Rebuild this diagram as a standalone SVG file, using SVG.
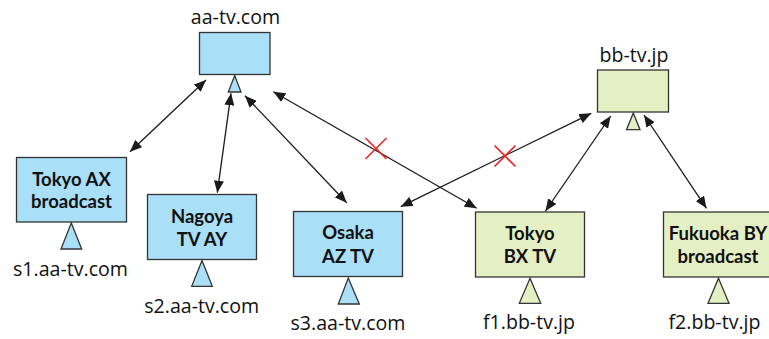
<svg xmlns="http://www.w3.org/2000/svg" width="769" height="339" viewBox="0 0 769 339">
<style>
.box{stroke:#333;stroke-width:1.3}
.a{fill:#aadff8}
.b{fill:#e4efc4}
.lbl{font-family:"Open Sans","Noto Sans",sans-serif;font-size:19.6px;fill:#111;text-anchor:middle}
.nm{font-family:Lato,"Open Sans",sans-serif;font-weight:bold;font-size:18.5px;fill:#111;text-anchor:middle}
.cn{stroke:#1a1a1a;stroke-width:1.3;fill:none;marker-start:url(#ah);marker-end:url(#ah)}
.x{stroke:#ee2222;stroke-width:1.6;fill:none}
</style>
<defs>
<marker id="ah" viewBox="0 0 12 10" refX="12" refY="5" markerWidth="12" markerHeight="10" markerUnits="userSpaceOnUse" orient="auto-start-reverse">
<path d="M0,0 L12,5 L0,10 z" fill="#1a1a1a"/>
</marker>
</defs>
<g id="connectors">
<line class="cn" x1="130" y1="151.7" x2="206" y2="80"/>
<line class="cn" x1="217.3" y1="192.7" x2="231" y2="93.3"/>
<line class="cn" x1="346.7" y1="202.7" x2="245" y2="95.7"/>
<line class="cn" x1="476.7" y1="208.3" x2="273.3" y2="91.7"/>
<line class="cn" x1="400.7" y1="206.7" x2="591.3" y2="113.3"/>
<line class="cn" x1="545.5" y1="211" x2="610.7" y2="116"/>
<line class="cn" x1="706.5" y1="208.3" x2="644" y2="115"/>
<path class="x" d="M365.5,138 L386.5,159 M386.5,138 L365.5,159"/>
<path class="x" d="M494.5,145.5 L515.5,166.5 M515.5,145.5 L494.5,166.5"/>
</g>
<g id="aa-tv">
<text class="lbl" x="235.5" y="24">aa-tv.com</text>
<rect class="box a" x="199.5" y="32.5" width="70.5" height="42"/>
<polygon class="box a" points="234.7,75.5 241,92 228.3,92"/>
</g>
<g id="bb-tv">
<text class="lbl" x="634" y="62.3">bb-tv.jp</text>
<rect class="box b" x="597.5" y="70" width="71" height="42"/>
<polygon class="box b" points="633.3,113 640,129.7 626.5,129.7"/>
</g>
<g id="tokyo-ax">
<rect class="box a" x="16.5" y="157.5" width="110" height="64.5"/>
<text class="nm" x="71.5" y="186">Tokyo AX</text>
<text class="nm" x="71.5" y="208">broadcast</text>
<polygon class="box a" points="71.3,223 81.7,249 61,249"/>
<text class="lbl" x="70.5" y="276">s1.aa-tv.com</text>
</g>
<g id="nagoya">
<rect class="box a" x="147.5" y="194.5" width="109" height="65"/>
<text class="nm" x="202" y="222.7">Nagoya</text>
<text class="nm" x="202" y="246">TV AY</text>
<polygon class="box a" points="202,260.5 212.3,286.3 191.7,286.3"/>
<text class="lbl" x="201.7" y="312.7">s2.aa-tv.com</text>
</g>
<g id="osaka">
<rect class="box a" x="293.5" y="211.5" width="109" height="65"/>
<text class="nm" x="348" y="239.3">Osaka</text>
<text class="nm" x="348" y="263.3">AZ TV</text>
<polygon class="box a" points="348.3,278 359.3,304 338.3,304"/>
<text class="lbl" x="348" y="330">s3.aa-tv.com</text>
</g>
<g id="tokyo-bx">
<rect class="box b" x="475.5" y="212" width="109" height="65"/>
<text class="nm" x="530" y="240">Tokyo</text>
<text class="nm" x="530" y="263.3">BX TV</text>
<polygon class="box b" points="530,278.3 540.7,303.3 519.3,303.3"/>
<text class="lbl" x="529" y="329.3">f1.bb-tv.jp</text>
</g>
<g id="fukuoka">
<rect class="box b" x="663.5" y="212" width="109" height="65"/>
<text class="nm" x="718" y="240">Fukuoka BY</text>
<text class="nm" x="718" y="263.3">broadcast</text>
<polygon class="box b" points="718.5,278.3 729,303.3 708,303.3"/>
<text class="lbl" x="714.5" y="329.3">f2.bb-tv.jp</text>
</g>
</svg>
